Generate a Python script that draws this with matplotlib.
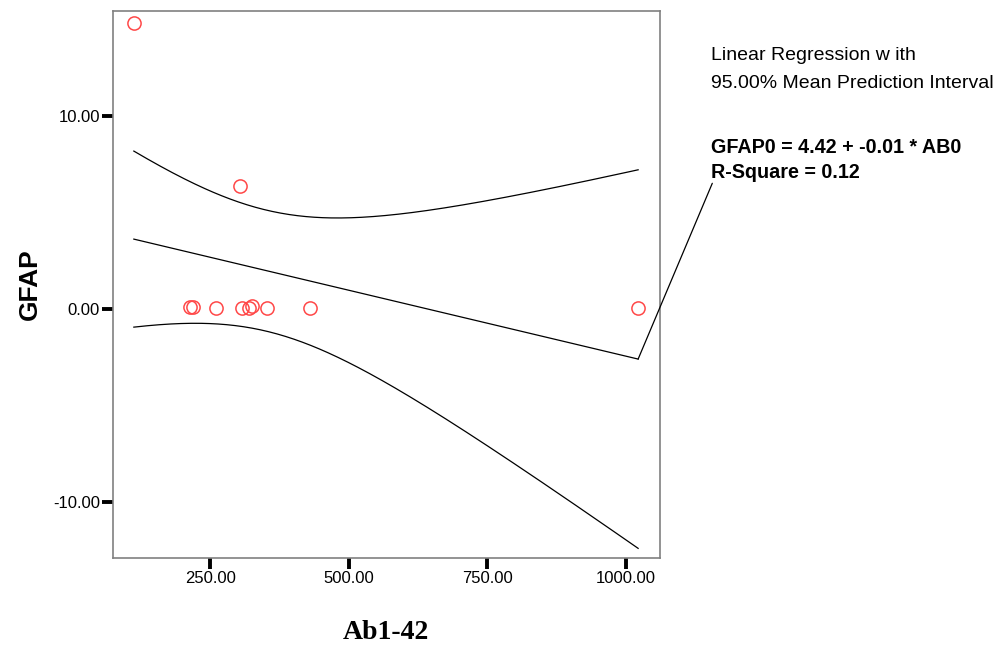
import numpy as np
import matplotlib
matplotlib.use("Agg")
import matplotlib.pyplot as plt

# Ab1-42 (x) and GFAP (y)
ab = np.array([112, 214, 218, 260, 303, 307, 320, 325, 352, 429, 1022])
gfap = np.array([14.82, 0.10, 0.10, 0.05, 6.37, 0.05, 0.08, 0.18, 0.05, 0.05, 0.05])

x_ticks = [250, 500, 750, 1000]
y_ticks = [-10, 0, 10]

legend_lines = ["Linear Regression w ith", "95.00% Mean Prediction Interval"]
fit_lines = ["GFAP0 = 4.42 + -0.01 * AB0", "R-Square = 0.12"]

T_975 = 2.262  # t quantile, df = n - 2 = 9


def fit_line(x, y):
    m = len(x)
    mx, my = x.mean(), y.mean()
    sxx = ((x - mx) ** 2).sum()
    sxy = ((x - mx) * (y - my)).sum()
    b1 = sxy / sxx
    b0 = my - b1 * mx
    resid = y - (b0 + b1 * x)
    s = np.sqrt((resid ** 2).sum() / (m - 2))
    return b0, b1, s, mx, sxx, m


b0, b1, s, mx, sxx, n = fit_line(ab, gfap)
xs = np.linspace(ab.min(), ab.max(), 300)
pred = b0 + b1 * xs
half = T_975 * s * np.sqrt(1 / n + (xs - mx) ** 2 / sxx)

fig = plt.figure(figsize=(10.01, 6.46), dpi=100)
ax = fig.add_axes([113 / 1001, 1 - 558 / 646, (660.3 - 113) / 1001, (558 - 10.7) / 646])

ax.plot(xs, pred, color="black", lw=0.9)
ax.plot(xs, pred + half, color="black", lw=0.9)
ax.plot(xs, pred - half, color="black", lw=0.9)
ax.plot(ab, gfap, "o", mfc="none", mec="#ff4848", ms=9.5, mew=1.1)

ax.set_xlim(74.4, 1062)
ax.set_ylim(-12.9, 15.46)
ax.set_xticks(x_ticks)
ax.set_yticks(y_ticks)
ax.set_xticklabels([f"{v:.2f}" for v in x_ticks], fontfamily="Liberation Sans", fontsize=12)
ax.set_yticklabels([f"{v:.2f}" for v in y_ticks], fontfamily="Liberation Sans", fontsize=12)
ax.tick_params(direction="out", length=8, width=2.8, color="black", pad=1.5)
for sp in ax.spines.values():
    sp.set_color("#808080")
    sp.set_linewidth(1.2)

fig.text(386 / 1001, 1 - 639 / 646, "Ab1-42", fontfamily="Liberation Serif",
         fontweight="bold", fontsize=20, ha="center", va="baseline")
ax.set_ylabel("GFAP", fontfamily="Liberation Sans", fontweight="bold", fontsize=19, labelpad=8)

# legend-like notes on the right
for i, txt in enumerate(legend_lines):
    fig.text(711 / 1001, 1 - (60 + 28 * i) / 646, txt,
             fontfamily="Liberation Sans", fontsize=14, va="baseline")
for i, txt in enumerate(fit_lines):
    fig.text(711 / 1001, 1 - (153 + 25 * i) / 646, txt,
             fontfamily="Liberation Sans", fontweight="bold", fontsize=14.2, va="baseline")

ax.annotate("", xy=(xs[-1], pred[-1]), xycoords="data",
            xytext=(712.3 / 1001, 1 - 183.3 / 646), textcoords="figure fraction",
            arrowprops=dict(arrowstyle="-", color="black", lw=0.9, shrinkA=0, shrinkB=0))

fig.savefig("out.png", dpi=100)
